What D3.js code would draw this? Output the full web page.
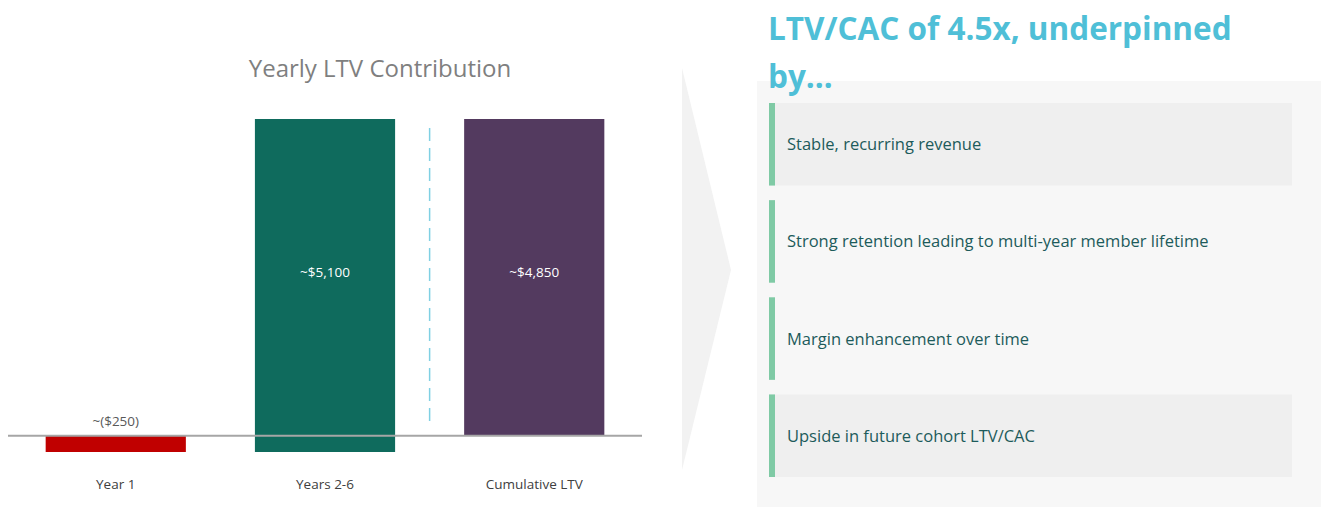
<!DOCTYPE html>
<html>
<head>
<meta charset="utf-8">
<script src="https://cdn.jsdelivr.net/npm/d3@7"></script>
<style>
  body { margin: 0; background: #fff; }
  svg { display: block; }
</style>
</head>
<body>
<div id="chart"></div>
<script>
// chart data
var categories = ["Year 1", "Years 2-6", "Cumulative LTV"];
var barStart = [0, -250, 0];
var barEnd = [-250, 4850, 4850];
var barLabels = ["~($250)", "~$5,100", "~$4,850"];
var barColors = ["#c00000", "#0f6b5d", "#533a5f"];

var headline = ["LTV/CAC of 4.5x, underpinned", "by\u2026"];
var bullets = [
  "Stable, recurring revenue",
  "Strong retention leading to multi-year member lifetime",
  "Margin enhancement over time",
  "Upside in future cohort LTV/CAC"
];
var bulletShaded = [true, false, false, true];

var W = 1321, H = 507;
var svg = d3.select("#chart").append("svg")
  .attr("width", W)
  .attr("height", H);

// left: waterfall chart
var x = d3.scaleBand().domain(categories).range([8, 642]).paddingInner(0.33).paddingOuter(0.18);
var y = d3.scaleLinear().domain([-250, 4850]).range([452, 119]);

svg.append("text")
  .attr("x", 380).attr("y", 77)
  .attr("text-anchor", "middle")
  .attr("font-family", "Open Sans, sans-serif")
  .attr("font-size", 24)
  .attr("fill", "#7f7f7f")
  .text("Yearly LTV Contribution");

var bars = categories.map(function(c, i) {
  return {cat: c, s: barStart[i], e: barEnd[i], label: barLabels[i], color: barColors[i]};
});

svg.selectAll("rect.bar")
  .data(bars)
  .enter().append("rect")
  .attr("class", "bar")
  .attr("x", function(d) { return x(d.cat); })
  .attr("width", x.bandwidth())
  .attr("y", function(d) { return y(Math.max(d.s, d.e)); })
  .attr("height", function(d) { return Math.abs(y(d.s) - y(d.e)); })
  .attr("fill", function(d) { return d.color; });

// baseline
svg.append("line")
  .attr("x1", 8).attr("x2", 642)
  .attr("y1", y(0)).attr("y2", y(0))
  .attr("stroke", "#a6a6a6")
  .attr("stroke-width", 2);

// separator between bars 2 and 3
var sepX = (x(categories[1]) + x.bandwidth() + x(categories[2])) / 2;
svg.append("line")
  .attr("x1", sepX).attr("x2", sepX)
  .attr("y1", 128).attr("y2", 425)
  .attr("stroke", "#7fd0e3")
  .attr("stroke-width", 1.5)
  .attr("stroke-dasharray", "13,7");

// value labels
svg.selectAll("text.val")
  .data(bars)
  .enter().append("text")
  .attr("class", "val")
  .attr("x", function(d) { return x(d.cat) + x.bandwidth() / 2; })
  .attr("y", function(d) { return d.e < 0 ? y(0) - 10 : (y(Math.max(d.s, d.e)) + y(0)) / 2; })
  .attr("text-anchor", "middle")
  .attr("font-family", "Open Sans, sans-serif")
  .attr("font-size", 13.5)
  .attr("fill", function(d) { return d.e < 0 ? "#595959" : "#ffffff"; })
  .text(function(d) { return d.label; });

// category labels
svg.append("g")
  .attr("transform", "translate(0,479)")
  .call(d3.axisBottom(x).tickSize(0).tickPadding(0))
  .call(function(g) { g.select(".domain").remove(); })
  .selectAll("text")
  .attr("font-family", "Open Sans, sans-serif")
  .attr("font-size", 13.5)
  .attr("fill", "#404040");

// chevron
svg.append("polygon")
  .attr("points", "682,68 731,270 682,470")
  .attr("fill", "#f2f2f2");

// right panel
svg.append("rect")
  .attr("x", 757).attr("y", 81)
  .attr("width", W - 757).attr("height", H - 81)
  .attr("fill", "#f7f7f7");

svg.selectAll("text.head")
  .data(headline)
  .enter().append("text")
  .attr("class", "head")
  .attr("x", 768)
  .attr("y", function(d, i) { return 40 + i * 48; })
  .attr("font-family", "Open Sans, sans-serif")
  .attr("font-weight", "bold")
  .attr("font-size", 31.5)
  .attr("fill", "#4fbfd7")
  .text(function(d) { return d; });

var yb = d3.scaleBand().domain(d3.range(bullets.length)).range([103, 477]).paddingInner(0.15);

var item = svg.selectAll("g.item")
  .data(bullets)
  .enter().append("g")
  .attr("class", "item")
  .attr("transform", function(d, i) { return "translate(0," + yb(i) + ")"; });

item.append("rect")
  .attr("x", 775).attr("width", 517)
  .attr("height", yb.bandwidth())
  .attr("fill", function(d, i) { return bulletShaded[i] ? "#efefef" : "none"; });

item.append("rect")
  .attr("x", 769).attr("width", 6)
  .attr("height", yb.bandwidth())
  .attr("fill", "#7fcaa5");

item.append("text")
  .attr("x", 787)
  .attr("y", yb.bandwidth() / 2 + 6)
  .attr("font-family", "Open Sans, sans-serif")
  .attr("font-size", 16.5)
  .attr("fill", "#1d5b5b")
  .text(function(d) { return d; });
</script>
</body>
</html>
